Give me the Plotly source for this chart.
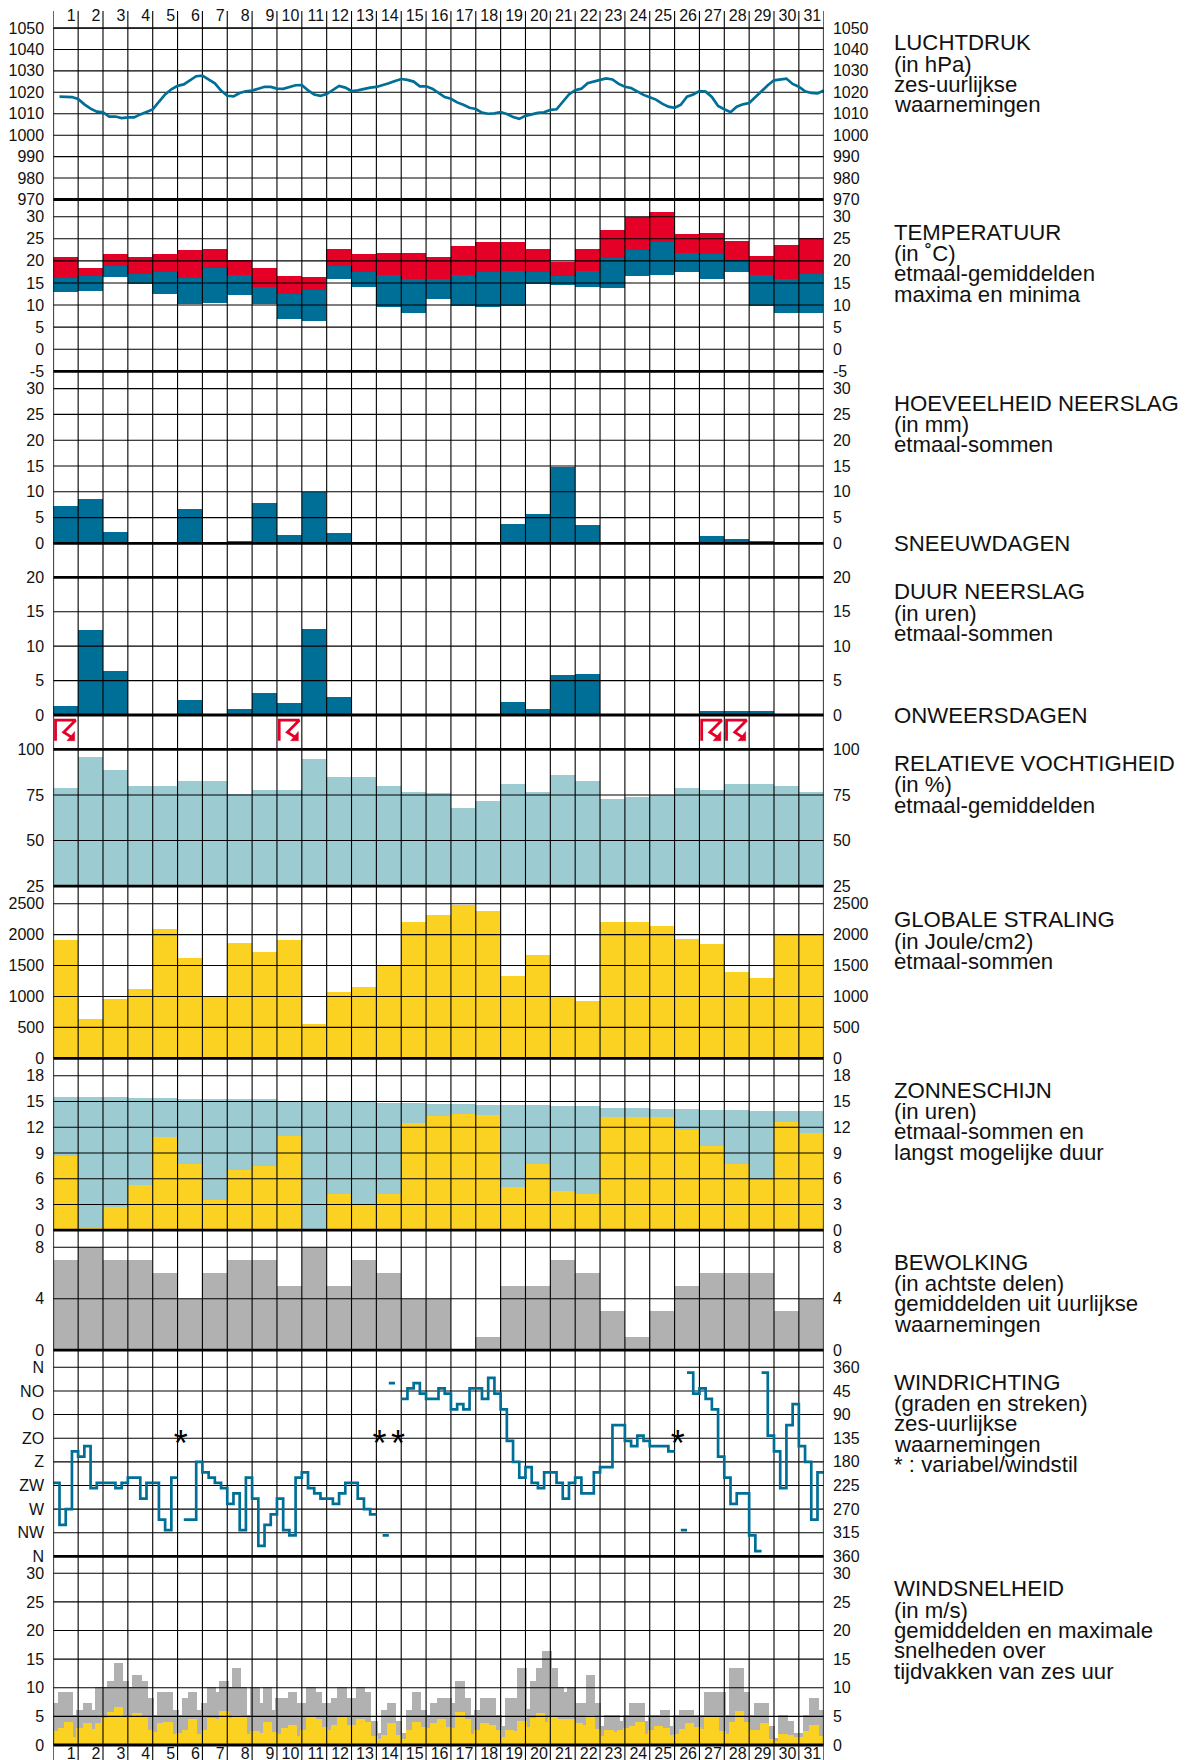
import plotly.graph_objects as go

W, H = 1188, 1760
X0, X1 = 53.3, 823.7
DAYS = list(range(1, 32))
TEAL, RED, LIGHT, YELLOW, GREY = "#006f98", "#e40026", "#9ccbd2", "#fbd122", "#b1b1b1"
FONT = "Liberation Sans"

pressure = [1018, 1018, 1017.8, 1016.9, 1014.4, 1012.4, 1011, 1010.7, 1008.7, 1008.7, 1008, 1008.3, 1008.3, 1009.7, 1010.8, 1012,
            1015.6, 1019, 1021.4, 1023, 1023.7, 1025.6, 1027.5, 1027.8, 1025.8, 1024.2, 1020.8, 1018.4, 1018.1, 1019.7, 1020.5, 1020.8,
            1021.7, 1022.6, 1022.5, 1021.7, 1021.6, 1022.5, 1023.3, 1023.4, 1020.9, 1019, 1018.4, 1019.2, 1021.2, 1023, 1022.2, 1020.6,
            1020.9, 1021.7, 1022.2, 1022.5, 1023.3, 1024.2, 1025.3, 1026.2, 1025.8, 1025, 1022.8, 1022.8, 1021.7, 1019.8, 1017.8, 1017,
            1015.3, 1014.2, 1012.8, 1012.2, 1010.5, 1010, 1010.2, 1010.8, 1009.9, 1008.5, 1007.6, 1009, 1009.8, 1010.4, 1010.7, 1011.8,
            1012.1, 1015.4, 1019, 1021, 1021.7, 1024.2, 1025.1, 1025.8, 1026.5, 1026, 1023.9, 1022.6, 1022, 1020.5, 1018.8, 1017.7,
            1016.6, 1014.7, 1013.3, 1012.8, 1014.2, 1018, 1019, 1020.6, 1020.3, 1017.8, 1013.6, 1012.1, 1010.7, 1013.3, 1014.4, 1015,
            1017.7, 1020.8, 1023.3, 1025.6, 1026, 1026.4, 1023.9, 1022.6, 1020.5, 1019.7, 1019.5, 1020.8]
temp_max = [20.9, 18.6, 21.6, 20.9, 21.6, 22.5, 22.9, 20.4, 18.6, 16.8, 16.4, 22.7, 21.6, 21.8, 21.8, 20.9,
            23.4, 24.3, 24.3, 22.9, 19.8, 22.7, 27.0, 30.1, 31.1, 26.3, 26.5, 24.7, 21.3, 23.8, 25.4]
temp_mean = [16.3, 16.6, 18.9, 17.2, 17.5, 16.3, 18.4, 17.0, 14.3, 12.7, 13.6, 18.9, 17.5, 17.0, 16.1, 16.1,
             17.0, 17.6, 17.9, 17.6, 16.6, 17.9, 20.8, 22.6, 24.3, 22.0, 21.6, 20.4, 17.0, 16.1, 17.2]
temp_min = [13.0, 13.4, 16.4, 14.8, 12.7, 10.3, 10.5, 12.5, 10.3, 6.9, 6.6, 16.1, 14.3, 9.6, 8.2, 11.4,
            10.0, 9.6, 10.0, 14.8, 14.6, 14.1, 13.9, 16.8, 17.0, 17.5, 15.9, 17.5, 10.0, 8.4, 8.4]
precip = [7.1, 8.6, 2.2, 0, 0, 6.6, 0, 0.45, 7.7, 1.55, 9.9, 1.9, 0, 0, 0, 0,
          0, 0, 3.7, 5.6, 14.8, 3.5, 0, 0, 0, 0, 1.4, 0.8, 0.5, 0, 0]
precip_hours = [1.3, 12.3, 6.4, 0, 0, 2.2, 0, 0.8, 3.1, 1.7, 12.5, 2.5, 0, 0, 0, 0,
                0, 0, 1.9, 0.8, 5.8, 5.9, 0, 0, 0, 0, 0.6, 0.5, 0.5, 0, 0]
thunder_days = [1, 10, 27, 28]
humidity = [78.6, 95.6, 88.5, 79.6, 79.6, 82.7, 82.7, 75.2, 77.6, 77.6, 94.5, 84.7, 84.7, 79.6, 76.5, 75.7,
            67.5, 71.5, 80.7, 76.5, 85.8, 82.7, 72.6, 73.7, 74.6, 78.6, 77.6, 80.7, 80.7, 79.6, 76.5]
radiation = [1902, 636, 954, 1121, 2091, 1622, 991, 1864, 1713, 1902, 555, 1067, 1148, 1487, 2198, 2322,
             2478, 2381, 1320, 1670, 991, 916, 2193, 2209, 2139, 1923, 1848, 1395, 1298, 1999, 1999]
day_length = [15.5, 15.5, 15.5, 15.4, 15.4, 15.3, 15.3, 15.2, 15.2, 15.05, 15.0, 15.0, 15.0, 14.8, 14.8, 14.7,
              14.7, 14.6, 14.5, 14.5, 14.4, 14.4, 14.2, 14.2, 14.1, 14.1, 14.0, 14.0, 13.9, 13.9, 13.8]
sunshine = [8.6, 0.2, 2.7, 5.2, 10.8, 7.7, 3.5, 7.0, 7.5, 10.9, 0, 4.2, 3.0, 4.2, 12.5, 13.3,
            13.5, 13.4, 5.0, 7.7, 4.5, 4.2, 13.2, 13.2, 13.2, 11.6, 9.8, 7.7, 5.8, 12.6, 11.3]
clouds = [7, 8, 7, 7, 6, 4, 6, 7, 7, 5, 8, 5, 7, 6, 4, 4, 0, 1, 5, 5, 7, 6, 3, 1, 3, 5, 6, 6, 6, 3, 4]
wind_dir = [220, 300, 270, 160, 170, 150, 230, 220, 220, 220, 230, 220, 210, 210, 250, 220,
            220, 290, 310, 210, None, 290, 290, 180, 200, 210, 220, 230, 260, 240, 310, 210,
            250, 340, 300, 280, 250, 310, 320, 210, 200, 230, 240, 250, 250, 260, 240, 220,
            220, 250, 270, 280, None, 320, 30, None, 60, 40, 30, 50, 60, 60, 40, 50,
            80, 70, 80, 40, 40, 60, 20, 50, 80, 140, 180, 210, 190, 220, 230, 200,
            200, 220, 250, 220, 210, 240, 240, 200, 190, 190, 110, 110, 140, 150, 130, 140,
            150, 150, 150, 160, None, 310, 10, 50, 40, 60, 80, 170, 210, 260, 240, 240,
            320, 350, 10, 130, 160, 230, 110, 70, 150, 180, 290, 200]
variable_steps = [20, 52, 55, 100]
wind_max = [7.2, 9.2, 9.2, 5.2, 6.1, 7.2, 6.1, 10.1, 10.1, 11.2, 14.2, 11.2, 10.1, 12.2, 11.2, 8.2,
            5.2, 9.2, 9.2, 6.1, 5.2, 8.2, 9.2, 6.1, 7.2, 10.1, 9.2, 11.2, 10.1, 13.3, 10.1, 5.2,
            10.1, 7.2, 10.1, 6.1, 8.2, 8.2, 9.2, 7.2, 7.2, 10.1, 9.2, 7.2, 7.2, 8.2, 10.1, 8.2,
            8.2, 10.1, 9.2, 4.2, 2.1, 6.1, 7.2, 4.2, 2.1, 6.1, 9.2, 6.1, 5.2, 7.2, 8.2, 8.2,
            7.2, 11.2, 8.2, 5.2, 6.1, 8.2, 8.2, 5.2, 3.2, 8.2, 8.2, 13.3, 6.2, 11.2, 13.3, 16.3,
            13.3, 10.1, 9.2, 10.1, 7.2, 7.2, 12.2, 7.2, 3.2, 5.2, 5.2, 4.2, 5.2, 7.2, 7.2, 4.2,
            5.2, 5.2, 6.1, 3.2, 5.2, 6.1, 6.1, 5.2, 5.2, 9.2, 9.2, 9.2, 5.2, 13.3, 13.3, 9.2,
            5.2, 7.2, 7.2, 3.2, 1.2, 5.2, 4.2, 2.1, 2.1, 5.2, 8.2, 6.1]
wind_mean = [2.3, 2.9, 3.9, 1.3, 2.9, 3.7, 2.7, 3.7, 4.6, 5.7, 6.5, 5.0, 4.9, 5.5, 4.9, 2.6,
             2.2, 3.7, 4.0, 1.9, 2.0, 2.5, 4.4, 1.9, 2.5, 4.7, 4.4, 5.9, 4.6, 5.1, 5.0, 1.9,
             2.4, 2.0, 4.0, 2.2, 1.9, 2.9, 3.5, 1.5, 2.5, 4.8, 4.4, 3.0, 2.5, 3.5, 4.8, 3.4,
             3.5, 4.4, 3.9, 1.5, 0.9, 1.7, 3.7, 1.7, 1.0, 2.6, 3.9, 3.1, 2.9, 3.7, 4.5, 3.0,
             2.9, 5.7, 4.4, 1.9, 2.5, 3.8, 3.5, 2.6, 1.3, 2.6, 2.4, 4.1, 3.1, 4.6, 5.5, 3.9,
             4.9, 4.4, 4.4, 4.4, 3.8, 3.5, 5.1, 2.7, 1.5, 2.5, 2.2, 2.5, 2.9, 3.3, 3.9, 1.8,
             2.5, 3.2, 2.9, 1.6, 1.8, 2.7, 3.7, 3.1, 2.7, 4.8, 4.9, 2.4, 1.9, 3.9, 5.9, 3.9,
             2.5, 2.5, 3.7, 0.9, 0.6, 1.8, 1.6, 1.3, 1.3, 2.3, 3.4, 1.5]

press_ticks = list(range(970, 1051, 10))
temp_ticks = list(range(-5, 31, 5))
precip_ticks = list(range(0, 31, 5))
hours_ticks = list(range(0, 21, 5))
hum_ticks = [25, 50, 75, 100]
rad_ticks = list(range(0, 2501, 500))
sun_ticks = list(range(0, 19, 3))
cloud_ticks = [0, 4, 8]
dir_ticks = list(range(0, 361, 45))
dir_left = ["N", "NO", "O", "ZO", "Z", "ZW", "W", "NW", "N"]
dir_right = ["360", "45", "90", "135", "180", "225", "270", "315", "360"]
speed_ticks = list(range(0, 31, 5))

# name, top px, bottom px, bottom value, reference value, px of reference value, ticks, left labels, right labels
PANELS = [
    ("press", 28.0, 199.5, 970, 1050, 28.0, press_ticks, None, None),
    ("temp", 199.5, 371.3, -5, 30, 216.7, temp_ticks, None, None),
    ("precip", 371.3, 543.4, 0, 30, 388.6, precip_ticks, None, None),
    ("snow", 543.4, 577.3, 0, 1, 543.4, [], None, None),
    ("hours", 577.3, 715.0, 0, 20, 577.3, hours_ticks, None, None),
    ("storm", 715.0, 749.3, 0, 1, 715.0, [], None, None),
    ("hum", 749.3, 886.2, 25, 100, 749.3, hum_ticks, None, None),
    ("rad", 886.2, 1058.3, 0, 2500, 903.7, rad_ticks, None, None),
    ("sun", 1058.3, 1230.2, 0, 18, 1075.7, sun_ticks, None, None),
    ("cloud", 1230.2, 1350.2, 0, 8, 1247.3, cloud_ticks, None, None),
    ("dir", 1350.2, 1556.4, 360, 0, 1367.3, dir_ticks, dir_left, dir_right),
    ("speed", 1556.4, 1745.0, 0, 30, 1573.3, speed_ticks, None, None),
]
FULL_AXIS = "y99"

layout = {}
axis_of = {}
ranges = {}
for n, (name, top, bot, lo, ref, ref_px, ticks, left, right) in enumerate(PANELS, start=1):
    per_px = (ref - lo) / (bot - ref_px)
    hi = lo + (bot - top) * per_px
    ranges[name] = (lo, hi)
    axis_of[name] = "y" + (str(n) if n > 1 else "")
    common = dict(range=[lo, hi], showgrid=False, zeroline=False, showline=False, fixedrange=True,
                  tickmode="array", tickvals=ticks, ticks="outside", ticklen=5, tickcolor="rgba(0,0,0,0)",
                  tickfont=dict(family=FONT, size=16, color="#111"), anchor="x")
    layout["yaxis" + (str(n) if n > 1 else "")] = dict(common, domain=[1 - bot / H, 1 - top / H], side="left",
                                                       ticktext=left if left else [str(t) for t in ticks])
    layout["yaxis" + str(n + 20)] = dict(common, overlaying="y" + (str(n) if n > 1 else ""), side="right",
                                         ticktext=right if right else [str(t) for t in ticks])

fig = go.Figure()


def bar(panel, y, color, base=None, x=None, width=1.0):
    fig.add_trace(go.Bar(x=x if x is not None else [d - 0.5 for d in DAYS], y=y, base=base, width=width,
                         marker=dict(color=color, line=dict(width=0)), xaxis="x", yaxis=axis_of[panel],
                         hoverinfo="skip", showlegend=False))


def grid(panel, ticks):
    lo, hi = ranges[panel]
    xs, ys = [], []
    for t in ticks:
        xs += [0, 31, None]
        ys += [t, t, None]
    for d in range(1, 31):
        xs += [d, d, None]
        ys += [lo, hi, None]
    fig.add_trace(go.Scatter(x=xs, y=ys, mode="lines", line=dict(color="#000", width=1.1), xaxis="x",
                             yaxis=axis_of[panel], hoverinfo="skip", showlegend=False))


# bars
bar("temp", [a - b for a, b in zip(temp_max, temp_mean)], RED, base=temp_mean)
bar("temp", [a - b for a, b in zip(temp_mean, temp_min)], TEAL, base=temp_min)
bar("precip", precip, TEAL)
bar("hours", precip_hours, TEAL)
bar("hum", humidity, LIGHT)
bar("rad", radiation, YELLOW)
bar("sun", day_length, LIGHT)
bar("sun", sunshine, YELLOW)
bar("cloud", clouds, GREY)
step_x = [(i + 0.5) / 4 for i in range(len(wind_max))]
bar("speed", wind_max, GREY, x=step_x, width=0.375)
bar("speed", wind_mean, YELLOW, x=step_x, width=0.375)

# grid above the bars
for p in PANELS:
    grid(p[0], p[6])

# the right-hand axes show the same scale as the left-hand ones
for n, p in enumerate(PANELS, start=1):
    fig.add_trace(go.Scatter(x=[0], y=[ranges[p[0]][0]], mode="none", xaxis="x", yaxis="y" + str(n + 20),
                             hoverinfo="skip", showlegend=False))

# pressure line
fig.add_trace(go.Scatter(x=[(i + 1) / 4 for i in range(len(pressure))], y=pressure, mode="lines",
                         line=dict(color=TEAL, width=2.7), xaxis="x", yaxis=axis_of["press"],
                         hoverinfo="skip", showlegend=False))

# thunderstorm icons
bolt_x = [0.09, 0.09, 0.9, 0.42, 0.76]
bolt_y = [0.25, 0.85, 0.85, 0.50, 0.34]
head_x = [0.55, 0.86, 0.86, 0.55]
head_y = [0.25, 0.25, 0.52, 0.25]
for d in thunder_days:
    fig.add_trace(go.Scatter(x=[d - 1 + v for v in bolt_x], y=bolt_y, mode="lines",
                             line=dict(color=RED, width=2.8, simplify=False), xaxis="x", yaxis=axis_of["storm"],
                             hoverinfo="skip", showlegend=False))
    fig.add_trace(go.Scatter(x=[d - 1 + v for v in head_x], y=head_y, mode="lines", fill="toself", fillcolor=RED,
                             line=dict(color=RED, width=0.5), xaxis="x", yaxis=axis_of["storm"],
                             hoverinfo="skip", showlegend=False))

# wind direction stepped line
xs, ys, prev = [], [], None
for i, v in enumerate(wind_dir):
    if v is None:
        prev = None
        continue
    if prev is None or abs(v - prev) > 180:
        xs.append(None)
        ys.append(None)
    xs += [i / 4, (i + 1) / 4]
    ys += [v, v]
    prev = v
fig.add_trace(go.Scatter(x=xs, y=ys, mode="lines", line=dict(color=TEAL, width=2.7, simplify=False), xaxis="x",
                         yaxis=axis_of["dir"], hoverinfo="skip", showlegend=False))
fig.add_trace(go.Scatter(x=[(i + 0.5) / 4 for i in variable_steps], y=[152 for _ in variable_steps], mode="text",
                         text=["*" for _ in variable_steps], textposition="middle center",
                         textfont=dict(family=FONT, size=36, color="#000"), xaxis="x", yaxis=axis_of["dir"],
                         hoverinfo="skip", showlegend=False))

# frame, separators, extended day lines on a page-height axis
edges = [p[1] for p in PANELS] + [PANELS[-1][2]]
sx, sy = [], []
for e in edges[1:]:
    sx += [0, 31, None]
    sy += [e, e, None]
fig.add_trace(go.Scatter(x=sx, y=sy, mode="lines", line=dict(color="#000", width=2.8), xaxis="x", yaxis=FULL_AXIS,
                         hoverinfo="skip", showlegend=False, cliponaxis=False))
fig.add_trace(go.Scatter(x=[0, 31], y=[edges[0], edges[0]], mode="lines", line=dict(color="#000", width=1.6),
                         xaxis="x", yaxis=FULL_AXIS, hoverinfo="skip", showlegend=False, cliponaxis=False))
vx, vy = [], []
for d in range(0, 32):
    vx += [d, d, None, d, d, None]
    vy += [11, edges[0], None, edges[-1], H, None]
fig.add_trace(go.Scatter(x=vx, y=vy, mode="lines", line=dict(color="#000", width=1.1), xaxis="x", yaxis=FULL_AXIS,
                         hoverinfo="skip", showlegend=False, cliponaxis=False))
fig.add_trace(go.Scatter(x=[0, 0, None, 31, 31], y=[edges[0], edges[-1], None, edges[0], edges[-1]], mode="lines",
                         line=dict(color="#000", width=1.6), xaxis="x", yaxis=FULL_AXIS, hoverinfo="skip",
                         showlegend=False, cliponaxis=False))

# day numbers at top and bottom
for y_px in (16.7, 1755.0):
    fig.add_trace(go.Scatter(x=[d - 0.1 for d in DAYS], y=[y_px] * len(DAYS), mode="text",
                             text=[str(d) for d in DAYS], textposition="middle left",
                             textfont=dict(family=FONT, size=16, color="#111"), xaxis="x", yaxis=FULL_AXIS,
                             hoverinfo="skip", showlegend=False, cliponaxis=False))

# right-hand captions: first-line pixel position, then the lines
CAPTIONS = [
    (42.7, ["LUCHTDRUK", "(in hPa)", "zes-uurlijkse", "waarnemingen"]),
    (232.4, ["TEMPERATUUR", "(in ˚C)", "etmaal-gemiddelden", "maxima en minima"]),
    (403.1, ["HOEVEELHEID NEERSLAG", "(in mm)", "etmaal-sommen"]),
    (543.5, ["SNEEUWDAGEN"]),
    (591.8, ["DUUR NEERSLAG", "(in uren)", "etmaal-sommen"]),
    (715.3, ["ONWEERSDAGEN"]),
    (763.6, ["RELATIEVE VOCHTIGHEID", "(in %)", "etmaal-gemiddelden"]),
    (919.7, ["GLOBALE STRALING", "(in Joule/cm2)", "etmaal-sommen"]),
    (1090.3, ["ZONNESCHIJN", "(in uren)", "etmaal-sommen en", "langst mogelijke duur"]),
    (1262.1, ["BEWOLKING", "(in achtste delen)", "gemiddelden uit uurlijkse", "waarnemingen"]),
    (1382.3, ["WINDRICHTING", "(graden en streken)", "zes-uurlijkse", "waarnemingen", "* : variabel/windstil"]),
    (1588.9, ["WINDSNELHEID", "(in m/s)", "gemiddelden en maximale", "snelheden over", "tijdvakken van zes uur"]),
]
annotations = []
for y0, lines in CAPTIONS:
    for j, line in enumerate(lines):
        y_px = y0 + (0 if j == 0 else 21.3 + 20.3 * (j - 1))
        annotations.append(dict(text=line, x=891.5 / W, y=1 - y_px / H, xref="paper", yref="paper",
                                xanchor="left", yanchor="middle", showarrow=False,
                                font=dict(family=FONT, size=22.2, color="#111")))

fig.update_layout(
    width=W, height=H, margin=dict(l=0, r=0, t=0, b=0, autoexpand=False), paper_bgcolor="white",
    plot_bgcolor="rgba(0,0,0,0)", barmode="overlay", bargap=0, showlegend=False, annotations=annotations,
    xaxis=dict(domain=[X0 / W, X1 / W], range=[0, 31], visible=False, fixedrange=True),
    **layout,
    yaxis99=dict(domain=[0, 1], range=[H, 0], visible=False, fixedrange=True, anchor="x"),
)
fig.write_html("out.html", config=dict(displayModeBar=False),
               post_script="document.body.style.margin='0';document.body.style.overflow='hidden';")
